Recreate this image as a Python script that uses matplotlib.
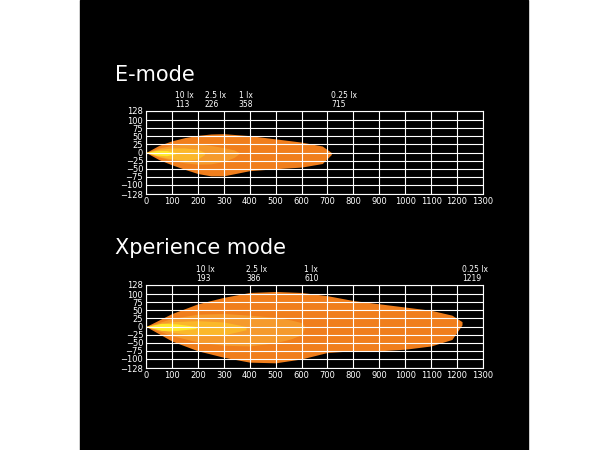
import matplotlib.pyplot as plt
import numpy as np

# Beam zones: (x, upper, lower) for 0.25 lx, 1 lx, 2.5 lx, 10 lx
e_zones = [
    ([0, 50, 100, 150, 200, 250, 300, 400, 500, 600, 680, 715],
     [0, 22, 36, 46, 53, 57, 58, 52, 42, 32, 20, 0],
     [0, -22, -38, -52, -65, -72, -72, -56, -50, -45, -34, -6]),
    ([0, 50, 100, 150, 200, 250, 300, 340, 358],
     [0, 14, 22, 26, 26, 22, 15, 8, 0],
     [0, -14, -24, -32, -36, -35, -28, -15, -4]),
    ([0, 50, 100, 150, 200, 226],
     [0, 10, 14, 14, 10, 0],
     [0, -12, -20, -24, -20, -6]),
    ([0, 40, 80, 113],
     [0, 6, 6, 0],
     [0, -8, -10, -4]),
]
x_zones = [
    ([0, 100, 200, 300, 400, 500, 600, 700, 800, 900, 1000, 1100, 1180, 1219],
     [0, 40, 70, 90, 105, 108, 105, 95, 80, 70, 60, 50, 35, 15],
     [0, -45, -75, -95, -110, -112, -100, -80, -75, -75, -70, -60, -40, 5]),
    ([0, 100, 200, 300, 400, 500, 560, 600, 610],
     [0, 25, 38, 40, 35, 28, 20, 12, 3],
     [0, -28, -48, -58, -60, -50, -38, -25, -8]),
    ([0, 100, 200, 300, 386],
     [0, 15, 18, 14, 0],
     [0, -18, -28, -26, -10]),
    ([0, 60, 120, 193],
     [0, 10, 8, 0],
     [0, -12, -12, -6]),
]
e_lux = ["10 lx", "2.5 lx", "1 lx", "0.25 lx"]
e_dist = [113, 226, 358, 715]
x_dist = [193, 386, 610, 1219]
zone_colors = ["#f07e1c", "#f59a2c", "#fbb82a", "#ffe82a"]
yticks = [128, 100, 75, 50, 25, 0, -25, -50, -75, -100, -128]
xticks = list(range(0, 1400, 100))

fig = plt.figure(figsize=(6.1, 4.5), dpi=100)
fig.patch.set_facecolor("white")
fig.add_artist(plt.Rectangle((80 / 610, 0), 448 / 610, 1, transform=fig.transFigure,
                             color="black", zorder=0))


def draw(ax, zones, dists, title, title_y):
    ax.set_facecolor("black")
    for (x, up, lo), c in zip(zones, zone_colors):
        ax.fill_between(x, up, lo, color=c, lw=0, zorder=1)
    ax.set_xlim(0, 1300)
    ax.set_ylim(-128, 128)
    ax.set_xticks(xticks)
    ax.set_yticks(yticks)
    ax.tick_params(colors="white", labelsize=6, length=0, pad=2)
    ax.grid(color="white", lw=0.8, zorder=2)
    ax.set_axisbelow(False)
    for s in ax.spines.values():
        s.set_color("white")
    for lab, d in zip(e_lux, dists):
        ax.text(d, 1.03, f"{lab}\n{d}", transform=ax.get_xaxis_transform(),
                color="white", fontsize=5.5, ha="left", va="bottom", linespacing=0.9)
    fig.text(115 / 610, title_y, title, color="white", fontsize=15, va="center")


ax1 = fig.add_axes([146 / 610, 1 - 194 / 450, 337 / 610, 83 / 450])
draw(ax1, e_zones, e_dist, "E-mode", 1 - 75 / 450)
ax2 = fig.add_axes([146 / 610, 1 - 368 / 450, 337 / 610, 83 / 450])
draw(ax2, x_zones, x_dist, "Xperience mode", 1 - 248 / 450)

fig.savefig("out.png", dpi=100)
